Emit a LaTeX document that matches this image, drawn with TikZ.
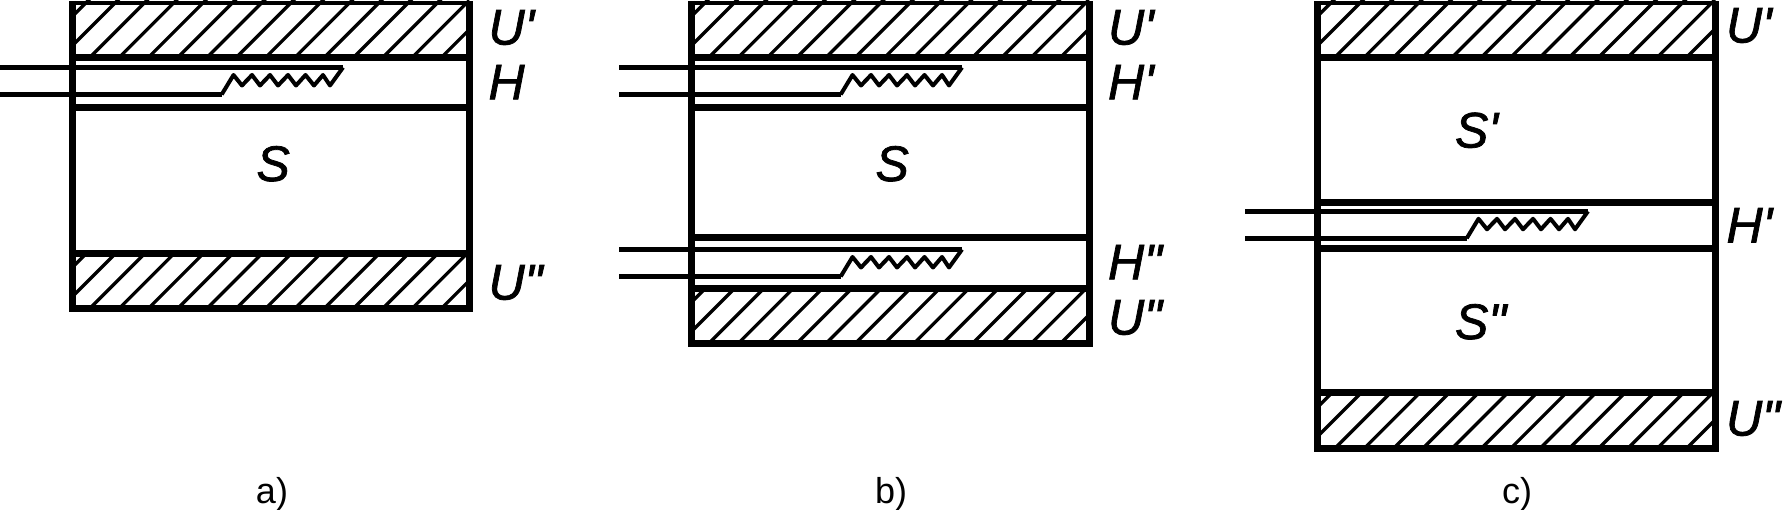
\documentclass[tikz,border=0pt]{standalone}
\usepackage{fontspec}
\newfontfamily\labelfont{Liberation Sans}
\newfontfamily\symbfont[FakeBold=1.5]{Liberation Sans}
\tikzset{
  x=1pt,y=-1pt,
  wall/.style={line width=6.6pt,line join=miter,line cap=butt},
  topwall/.style={line width=3.7pt},
  hatchline/.style={line width=3.3pt},
  wire/.style={line width=4.5pt},
  coil/.style={line width=4pt,line join=round},
  symb/.style={anchor=base west,inner sep=0pt,outer sep=0pt,font=\symbfont\fontsize{50}{50}\selectfont\itshape},
  capt/.style={anchor=base,inner sep=0pt,outer sep=0pt,font=\labelfont\fontsize{36}{36}\selectfont}
}
% hatched block: left, right, top, bottom
\newcommand{\hatchblock}[4]{%
  \begin{scope}
    \clip (#1,#3) rectangle (#2,#4);
    \foreach \k in {-2,...,13}{
      \draw[hatchline] ({#1+17.3+29.3*\k},#4) -- ++(70,-70);
    }
  \end{scope}}
% heater: left wall x, upper wire y
\newcommand{\heaterwire}[2]{%
  \begin{scope}[shift={(#1,#2)}]
    \coordinate (ua) at (-72.7,0);
    \coordinate (ub) at (270.3,0);
    \coordinate (la) at (-72.7,27);
    \coordinate (lb) at (149,27);
    \draw[wire] (ua) -- (ub);
    \draw[wire] (la) -- (lb);
    \draw[coil] (lb) -- (160.8,7.5) -- (169.3,18) -- (179.3,7.5) -- (187.3,18) -- (197.3,7.5) -- (205.3,18)
      -- (215.3,7.5) -- (223.3,18) -- (232.8,7.5) -- (241.3,18) -- (250.3,7.5) -- (257.3,18) -- (ub);
  \end{scope}}
% outer frame: left, right, bottom
\newcommand{\frameBox}[3]{%
  \draw[wall] (#1,1) -- (#1,#3) -- (#2,#3) -- (#2,1);
  \draw[topwall] (#1,2.8) -- (#2,2.8);}
\begin{document}
\begin{tikzpicture}
\useasboundingbox (0,0) rectangle (1784,510);
% panel a
\hatchblock{72.7}{469.4}{0}{57.3}
\hatchblock{72.7}{469.4}{253.3}{308.3}
\frameBox{72.7}{469.4}{308.3}
\draw[wall] (72.7,57.3) -- (469.4,57.3);
\draw[wall] (72.7,107.3) -- (469.4,107.3);
\draw[wall] (72.7,253.3) -- (469.4,253.3);
\heaterwire{72.7}{67.5}
\node[symb] (aU1) at (488.5,44.5) {U'};
\node[symb] (aH) at (488.5,99.3) {H};
\node[symb] (aS) at (256.5,181) {S};
\node[symb] (aU2) at (488.5,299.5) {U"};
\node[capt] (aC) at (272,503) {a)};
% panel b
\hatchblock{691.7}{1089.4}{0}{57.3}
\hatchblock{691.7}{1089.4}{288.3}{343.3}
\frameBox{691.7}{1089.4}{343.3}
\draw[wall] (691.7,57.3) -- (1089.4,57.3);
\draw[wall] (691.7,107.3) -- (1089.4,107.3);
\draw[wall] (691.7,237.3) -- (1089.4,237.3);
\draw[wall] (691.7,288.3) -- (1089.4,288.3);
\heaterwire{691.7}{67.5}
\heaterwire{691.7}{249.5}
\node[symb] (bU1) at (1108,44.5) {U'};
\node[symb] (bH1) at (1108,99.3) {H'};
\node[symb] (bS) at (875.5,181) {S};
\node[symb] (bH2) at (1108,279.3) {H"};
\node[symb] (bU2) at (1108,334.5) {U"};
\node[capt] (bC) at (891,503) {b)};
% panel c
\hatchblock{1317.7}{1715.7}{0}{57.3}
\hatchblock{1317.7}{1715.7}{392.3}{448.3}
\frameBox{1317.7}{1715.7}{448.3}
\draw[wall] (1317.7,57.3) -- (1715.7,57.3);
\draw[wall] (1317.7,202.3) -- (1715.7,202.3);
\draw[wall] (1317.7,248.3) -- (1715.7,248.3);
\draw[wall] (1317.7,392.3) -- (1715.7,392.3);
\heaterwire{1317.7}{211.3}
\node[symb] (cU1) at (1726,42.5) {U'};
\node[symb] (cS1) at (1455,147.5) {S'};
\node[symb] (cH) at (1726.5,242.5) {H'};
\node[symb] (cS2) at (1455,339) {S"};
\node[symb] (cU2) at (1726,435.5) {U"};
\node[capt] (cC) at (1517,503) {c)};
\end{tikzpicture}
\end{document}
